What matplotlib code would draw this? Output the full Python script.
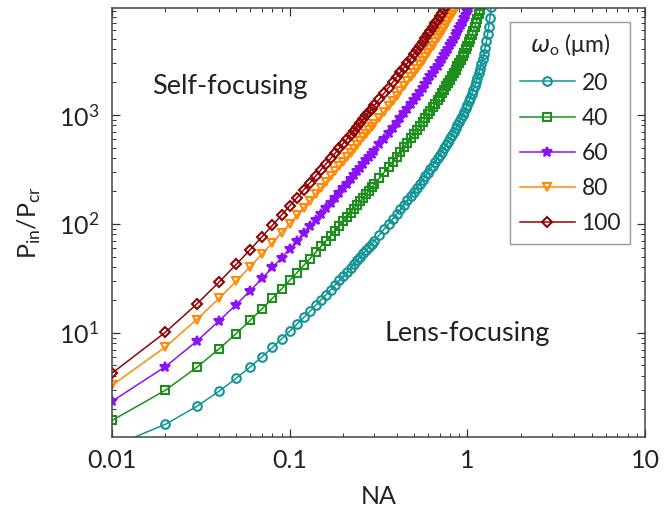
import matplotlib
matplotlib.use('Agg')
import matplotlib.pyplot as plt
from matplotlib.ticker import LogLocator, NullFormatter

# numerical aperture grid (0.01 steps up to 0.3, then 0.02 steps)
na = [0.01, 0.02, 0.03, 0.04, 0.05, 0.06, 0.07, 0.08, 0.09, 0.10,
      0.11, 0.12, 0.13, 0.14, 0.15, 0.16, 0.17, 0.18, 0.19, 0.20,
      0.21, 0.22, 0.23, 0.24, 0.25, 0.26, 0.27, 0.28, 0.29, 0.30,
      0.32, 0.34, 0.36, 0.38, 0.40, 0.42, 0.44, 0.46, 0.48, 0.50,
      0.52, 0.54, 0.56, 0.58, 0.60, 0.62, 0.64, 0.66, 0.68, 0.70,
      0.72, 0.74, 0.76, 0.78, 0.80, 0.82, 0.84, 0.86, 0.88, 0.90,
      0.92, 0.94, 0.96, 0.98, 1.00, 1.02, 1.04, 1.06, 1.08, 1.10,
      1.12, 1.14, 1.16, 1.18, 1.20, 1.22, 1.24, 1.26, 1.28, 1.30,
      1.32, 1.34, 1.36, 1.38]

# P_in / P_cr for each beam waist w0 (um)
p_w20 = [0.90, 1.44, 2.10, 2.89, 3.81, 4.85, 6.01, 7.31, 8.73, 10.3,
         12.0, 13.8, 15.7, 17.8, 20.0, 22.3, 24.8, 27.4, 30.2, 33.0,
         36.1, 39.2, 42.6, 46.0, 49.6, 53.4, 57.3, 61.4, 65.6, 70.0,
         79.3, 89.2, 99.8, 111, 123, 136, 150, 165, 180, 197,
         214, 232, 252, 273, 295, 319, 343, 370, 398, 428,
         460, 493, 530, 568, 609, 653, 700, 751, 806, 864,
         928, 996, 1071, 1152, 1241, 1338, 1445, 1563, 1695, 1841,
         2006, 2192, 2404, 2648, 2932, 3265, 3661, 4141, 4735, 5487,
         6470, 7812, 9748, 12790]
p_w40 = [1.56, 2.96, 4.80, 7.08, 9.81, 13.0, 16.6, 20.7, 25.2, 30.2,
         35.6, 41.5, 47.8, 54.6, 61.9, 69.7, 77.9, 86.6, 95.8, 106,
         116, 126, 138, 149, 162, 174, 188, 201, 216, 231,
         262, 297, 333, 372, 414, 458, 506, 556, 610, 666,
         727, 791, 859, 932, 1009, 1090, 1177, 1269, 1367, 1471,
         1581, 1699, 1825, 1960, 2103, 2257, 2422, 2599, 2790, 2995,
         3217, 3458, 3719, 4004, 4315, 4655, 5031, 5445, 5906, 6421,
         6999, 7654, 8399, 9256, 10252]
p_w60 = [2.34, 4.88, 8.35, 12.8, 18.1, 24.3, 31.5, 39.7, 48.7, 58.8,
         69.8, 81.7, 94.6, 109, 123, 139, 156, 174, 193, 213,
         234, 256, 279, 303, 328, 354, 382, 410, 440, 471,
         536, 607, 682, 763, 850, 942, 1040, 1145, 1256, 1374,
         1500, 1633, 1775, 1926, 2086, 2255, 2435, 2627, 2831, 3047,
         3278, 3524, 3786, 4067, 4366, 4687, 5031, 5400, 5797, 6226,
         6689, 7191, 7736, 8330, 8978, 9690, 10473]
p_w80 = [3.28, 7.40, 13.2, 20.6, 29.7, 40.5, 53.0, 67.1, 82.9, 100,
         120, 141, 163, 188, 214, 242, 272, 303, 336, 372,
         409, 448, 488, 531, 576, 623, 671, 722, 775, 830,
         946, 1071, 1205, 1349, 1503, 1667, 1842, 2029, 2227, 2438,
         2662, 2900, 3152, 3421, 3706, 4009, 4330, 4672, 5036, 5422,
         5834, 6273, 6742, 7242, 7777, 8350, 8964, 9624, 10334]
p_w100 = [4.24, 10.1, 18.3, 29.1, 42.3, 58.0, 76.2, 96.9, 120, 146,
          174, 205, 238, 274, 313, 354, 398, 445, 494, 546,
          601, 658, 719, 782, 848, 917, 989, 1065, 1143, 1224,
          1396, 1582, 1781, 1994, 2222, 2466, 2726, 3002, 3296, 3609,
          3942, 4295, 4670, 5069, 5492, 5941, 6419, 6927, 7467, 8041,
          8653, 9305, 10001]

labels = ['20', '40', '60', '80', '100']
colors = ['#139496', '#1c8f1c', '#8a12f5', '#ff8a0a', '#8e0606']
markers = ['o', 's', '*', 'v', 'D']

plt.rcParams['font.family'] = ['Lato', 'DejaVu Sans']

fig = plt.figure(figsize=(6.64, 5.12), dpi=100)
ax = fig.add_axes([0.1687, 0.1465, 0.8027, 0.8379])

for p, lab, col, mk in zip([p_w20, p_w40, p_w60, p_w80, p_w100], labels, colors, markers):
    filled = mk == '*'
    ax.plot(na[:len(p)], p, color=col, lw=1.1, marker=mk,
            ms=7.5 if filled else (5.5 if mk == 'D' else 6.2), mew=1.5,
            mfc=col if filled else 'none', label=lab)

ax.set_xscale('log')
ax.set_yscale('log')
ax.set_xlim(0.01, 10)
ax.set_ylim(1.1, 9600)

ax.set_xticks([0.01, 0.1, 1, 10])
ax.set_xticklabels(['0.01', '0.1', '1', '10'])
ax.xaxis.set_minor_locator(LogLocator(base=10, subs=range(2, 10)))
ax.yaxis.set_minor_locator(LogLocator(base=10, subs=range(2, 10)))
ax.xaxis.set_minor_formatter(NullFormatter())
ax.yaxis.set_minor_formatter(NullFormatter())
ax.tick_params(which='both', direction='in', top=True, right=True,
               colors='#333333', labelcolor='#222222')
ax.tick_params(which='major', length=6, width=0.9, labelsize=18, pad=9)
ax.tick_params(which='minor', length=3, width=0.7)
for s in ax.spines.values():
    s.set_color('#444444')
    s.set_linewidth(1.1)

ax.set_xlabel('NA', fontsize=18, color='#222222')
ax.xaxis.set_label_coords(0.5, -0.113)
ax.set_ylabel(r'P$_{\mathregular{in}}$/P$_{\mathregular{cr}}$', fontsize=18, color='#222222')
ax.yaxis.set_label_coords(-0.13, 0.5)

ax.text(0.075, 0.818, 'Self-focusing', transform=ax.transAxes,
        fontsize=19.5, color='#222222', ha='left', va='center')
ax.text(0.512, 0.242, 'Lens-focusing', transform=ax.transAxes,
        fontsize=19.5, color='#222222', ha='left', va='center')

leg = ax.legend(loc='upper right', bbox_to_anchor=(0.972, 0.967),
                title=r'$\omega_{\mathregular{o}}$ ($\mathregular{\mu}$m)',
                fontsize=16.5, title_fontsize=16.5, frameon=True, fancybox=False,
                edgecolor='#999999', framealpha=1, handlelength=2.4,
                handletextpad=0.3, labelspacing=0.62, borderpad=0.4,
                borderaxespad=0)
leg.get_frame().set_linewidth(1.0)
for t in leg.get_texts():
    t.set_color('#222222')
leg.get_title().set_color('#222222')

fig.savefig('out.png', dpi=100)
